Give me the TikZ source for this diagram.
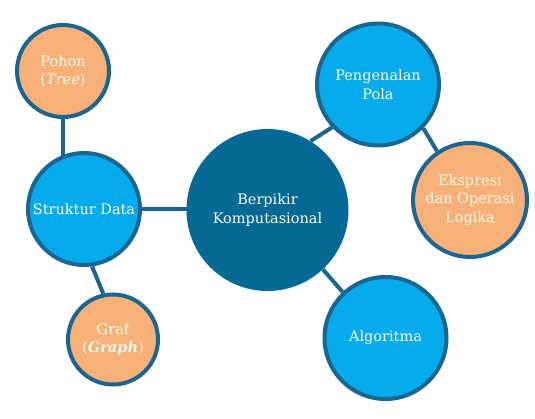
\documentclass[tikz,border=0pt]{standalone}
\usepackage{fontspec}
\setmainfont{DejaVu Serif}
\usetikzlibrary{backgrounds}
\definecolor{edgeblue}{HTML}{1B6690}
\definecolor{lightblue}{HTML}{05ABEB}
\definecolor{orangefill}{HTML}{F7B077}
\definecolor{centerblue}{HTML}{046A95}
\definecolor{textcol}{HTML}{FFF9EC}
\begin{document}
\begin{tikzpicture}[x=1pt,y=1pt,
  bubble/.style={circle,draw=edgeblue,line width=4pt,text=textcol,align=center,inner sep=0pt,
    font=\fontsize{14.5}{18.5}\selectfont},
  bluebubble/.style={bubble,fill=lightblue},
  orangebubble/.style={bubble,fill=orangefill},
  centerbubble/.style={circle,fill=centerblue,text=textcol,align=center,inner sep=0pt,
    minimum size=162pt,font=\fontsize{14.5}{18.5}\selectfont},
  link/.style={draw=edgeblue,line width=4pt}]
\useasboundingbox (0,0) rectangle (535,418);
\node[centerbubble] (c) at (267.5,208) {Berpikir\\Komputasional};
\node[bluebubble,minimum size=112pt] (s) at (84,209) {Struktur Data};
\node[orangebubble,minimum size=92pt] (p) at (63,347) {Pohon\\(\textit{Tree})};
\node[orangebubble,minimum size=90pt] (g) at (113,78.5) {Graf\\(\textbf{\textit{Graph}})};
\node[bluebubble,minimum size=122pt] (pp) at (378,333.5) {Pengenalan\\Pola};
\node[orangebubble,minimum size=114pt] (e) at (470,218) {Ekspresi\\dan Operasi\\Logika};
\node[bluebubble,minimum size=122pt] (a) at (385.5,80) {Algoritma};
\begin{pgfonlayer}{background}
\draw[link] (p.center) -- (p.center |- s.center);
\draw[link] (s.center) -- (s.center -| c.center);
\draw[link] (s.-82) -- (g.102);
\draw[link] (c.58) -- (pp.223);
\draw[link] (pp.-44) -- (e.124);
\draw[link] (c.-47) -- (a.133);
\end{pgfonlayer}
\end{tikzpicture}
\end{document}
